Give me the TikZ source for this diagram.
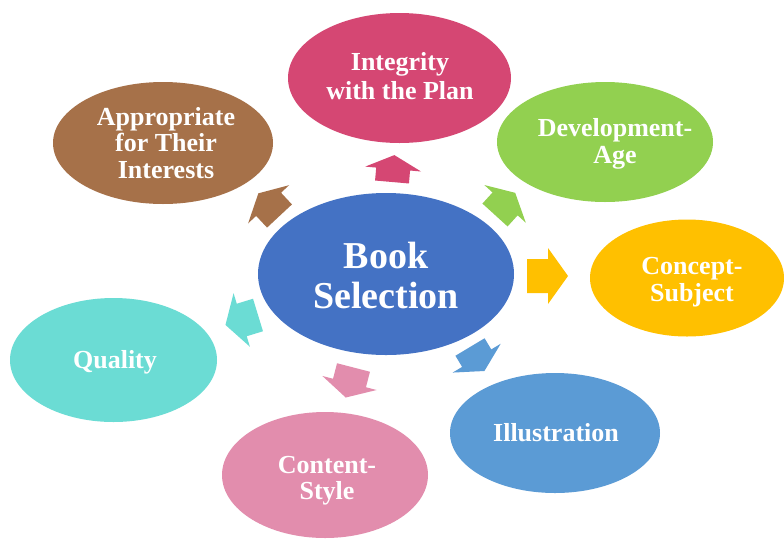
\documentclass[tikz,border=0pt]{standalone}
\usepackage{fontspec}
\setmainfont{Liberation Serif}
\usetikzlibrary{shapes.geometric}
\definecolor{cMain}{HTML}{4472C4}
\definecolor{cInteg}{HTML}{D54773}
\definecolor{cBrown}{HTML}{A67149}
\definecolor{cGreen}{HTML}{92D050}
\definecolor{cGold}{HTML}{FFC000}
\definecolor{cIllu}{HTML}{5B9BD5}
\definecolor{cPink}{HTML}{E28DAD}
\definecolor{cTurq}{HTML}{6BDCD4}
\tikzset{
  bubble/.style={ellipse, inner sep=0pt, draw=none},
  lbl/.style={text=white, font=\bfseries\fontsize{26}{26.5}\selectfont, align=center, inner sep=0pt, anchor=north},
  widelbl/.style={text=white, font=\bfseries\fontsize{26}{29}\selectfont, align=center, inner sep=0pt, anchor=north},
  mainlbl/.style={text=white, font=\bfseries\fontsize{38}{40}\selectfont, align=center, inner sep=0pt, anchor=north},
}
% color, tail-mid x, tail-mid y, angle, body length, head length
\newcommand{\blkarrow}[6]{%
  \fill[#1, shift={(#2,#3)}, rotate=#4] (0,-17) -- (#5,-17) -- (#5,-28) -- ({#5+#6},0) -- (#5,28) -- (#5,17) -- (0,17) -- cycle;}
\begin{document}
\begin{tikzpicture}[x=1pt,y=-1pt]
\useasboundingbox[fill=white] (0,0) rectangle (784,539);
% ellipses
\node[bubble, fill=cMain, minimum width=256, minimum height=162] (main) at (386,274) {};
\node[bubble, fill=cInteg, minimum width=223, minimum height=130] (integ) at (399.5,78) {};
\node[bubble, fill=cBrown, minimum width=220, minimum height=122] (approp) at (163,143) {};
\node[bubble, fill=cGreen, minimum width=216, minimum height=120] (devel) at (605,142) {};
\node[bubble, fill=cGold, minimum width=194, minimum height=117] (concept) at (687,278) {};
\node[bubble, fill=cIllu, minimum width=210, minimum height=120] (illu) at (555,433) {};
\node[bubble, fill=cPink, minimum width=206, minimum height=126] (content) at (325,475) {};
\node[bubble, fill=cTurq, minimum width=207, minimum height=124] (quality) at (113.5,360) {};
% labels
\node[mainlbl] (mainT) at (386,241.5) {Book\\Selection};
\node[widelbl] (integT) at (400,52) {Integrity\\with the Plan};
\node[lbl] (appropT) at (166,107) {Appropriate\\for Their\\Interests};
\node[lbl] (develT) at (615,118.5) {Development-\\Age};
\node[lbl] (conceptT) at (692,257.5) {Concept-\\Subject};
\node[lbl] (illuT) at (556,423.5) {Illustration};
\node[lbl] (contentT) at (327,456) {Content-\\Style};
\node[lbl] (qualityT) at (115,350.5) {Quality};
% block arrows
\blkarrow{cInteg}{392}{182}{85}{13}{14}
\blkarrow{cGreen}{495}{215}{47.7}{15}{15}
\blkarrow{cGold}{527}{276}{0}{21}{20}
\blkarrow{cIllu}{470}{347}{-59}{13}{15}
\blkarrow{cPink}{353.5}{367.5}{-104.5}{16}{15}
\blkarrow{cTurq}{258}{315}{197}{17}{17}
\blkarrow{cBrown}{279.5}{216}{133}{16}{15}
\end{tikzpicture}
\end{document}
